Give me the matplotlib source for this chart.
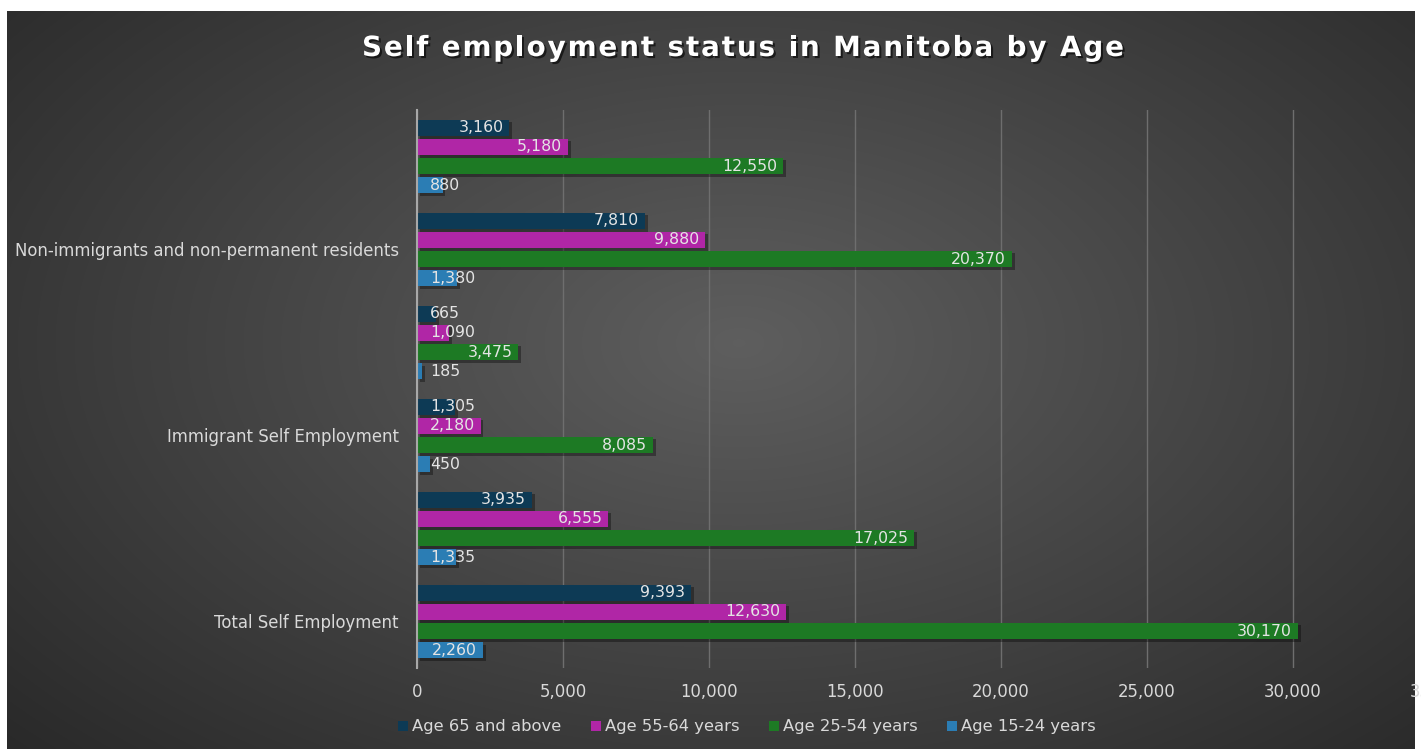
import numpy as np
import matplotlib
matplotlib.use("Agg")
import matplotlib.pyplot as plt
import matplotlib.patheffects as pe
import matplotlib.transforms as mtransforms
from matplotlib.patches import Patch

# Data (categories listed bottom to top, Excel only shows every other label)
tick_labels = ["Total Self Employment", "", "Immigrant Self Employment", "",
               "Non-immigrants and non-permanent residents", ""]
series_names = ["Age 65 and above", "Age 55-64 years", "Age 25-54 years", "Age 15-24 years"]
age_65_plus = [9393, 3935, 1305, 665, 7810, 3160]
age_55_64 = [12630, 6555, 2180, 1090, 9880, 5180]
age_25_54 = [30170, 17025, 8085, 3475, 20370, 12550]
age_15_24 = [2260, 1335, 450, 185, 1380, 880]
colors = ["#0d3a55", "#b026a6", "#1d7a24", "#2b7db4"]
title_str = "Self employment status in Manitoba by Age"

series = [age_65_plus, age_55_64, age_25_54, age_15_24]

fig = plt.figure(figsize=(14.21, 7.49), dpi=100, facecolor="white")

# dark radial background
bg = fig.add_axes([7 / 1421, 0, (1415 - 7) / 1421, (749 - 11) / 749])
yy, xx = np.mgrid[0:1:400j, 0:1:800j]
r = np.sqrt(((xx - 0.52) / 0.75) ** 2 + ((yy - 0.45) / 0.85) ** 2)
shade = np.clip(1 - r, 0, 1)
img = 0.15 + 0.22 * shade
bg.imshow(np.dstack([img, img, img]), aspect="auto", extent=[0, 1, 0, 1],
          interpolation="bilinear")
bg.set_axis_off()

ax = fig.add_axes([417 / 1421, (749 - 668) / 749, 1022 / 1421, 558 / 749])
ax.patch.set_alpha(0)

y = np.arange(len(tick_labels))
step = 0.205
height = 0.18
offsets = [1.5, 0.5, -0.5, -1.5]

shadow = [pe.SimplePatchShadow(offset=(2, -2), shadow_rgbFace="black", alpha=0.35), pe.Normal()]
bar_sets = []
for vals, off, col, name in zip(series, offsets, colors, series_names):
    bars = ax.barh(y + off * step, vals, height=height, color=col, label=name, zorder=3)
    for b in bars:
        b.set_path_effects(shadow)
    bar_sets.append(bars)

ax.set_xlim(0, 35000)
ax.set_ylim(-0.5, len(tick_labels) - 0.5)
ax.set_xticks(np.arange(0, 35001, 5000))
ax.set_xticklabels([f"{v:,}" for v in range(0, 35001, 5000)])
ax.set_yticks(y)
ax.set_yticklabels(tick_labels)
ax.tick_params(axis="both", length=0, colors="#d9d9d9", labelsize=11.9)
ax.tick_params(axis="y", pad=13)
ax.tick_params(axis="x", pad=11)
ax.xaxis.grid(True, color="#6e6e6e", linewidth=1, zorder=0)
ax.set_axisbelow(True)
for s in ["top", "right", "bottom"]:
    ax.spines[s].set_visible(False)
ax.spines["left"].set_color("#a8a8a8")
ax.spines["left"].set_linewidth(1.5)
ax.spines["left"].set_zorder(4)

# value labels: inside end, pushed out to the base when they don't fit
inside = mtransforms.offset_copy(ax.transData, fig=fig, x=-6, y=0, units="dots")
base = mtransforms.offset_copy(ax.transData, fig=fig, x=13, y=0, units="dots")
labels = []
for bars, vals in zip(bar_sets, series):
    for b, v in zip(bars, vals):
        yc = b.get_y() + b.get_height() / 2
        t = ax.text(v, yc, f"{v:,}", transform=inside, ha="right", va="center",
                    color="#e4e4e4", fontsize=11.3, zorder=5)
        labels.append((t, yc))

fig.canvas.draw()
renderer = fig.canvas.get_renderer()
x0_pix = ax.transData.transform((0, 0))[0]
for t, yc in labels:
    bb = t.get_window_extent(renderer)
    if bb.x0 < x0_pix + 12:
        t.set_transform(base)
        t.set_position((0, yc))
        t.set_ha("left")

# title with letter spacing: place each character
title_fx = [pe.SimplePatchShadow(offset=(1.5, -1.5), shadow_rgbFace="black", alpha=0.6), pe.Normal()]
tkw = dict(color="white", fontsize=20, fontweight="bold", va="center", ha="left")
spacing = 1.9
widths = []
for ch in title_str:
    if ch == " ":
        tmp = fig.text(0, 0, "a a", **tkw)
        w_full = tmp.get_window_extent(renderer).width
        tmp.set_text("aa")
        w_full -= tmp.get_window_extent(renderer).width
        tmp.remove()
    else:
        tmp = fig.text(0, 0, ch, **tkw)
        w_full = tmp.get_window_extent(renderer).width
        tmp.remove()
    widths.append(w_full + spacing)
total = sum(widths) - spacing
xpos = 743 - total / 2
ty = 749 - 48
for ch, w in zip(title_str, widths):
    if ch != " ":
        t = fig.text(xpos / 1421, ty / 749, ch, **tkw)
        t.set_path_effects(title_fx)
    xpos += w

handles = [Patch(facecolor=c, label=n) for c, n in zip(colors, series_names)]
leg = fig.legend(handles=handles, loc="center", bbox_to_anchor=(747 / 1421, 1 - 727 / 749),
                 ncol=4, frameon=False, fontsize=11.8, handlelength=0.6, handleheight=0.6,
                 handletextpad=0.25, columnspacing=1.8)
for txt in leg.get_texts():
    txt.set_color("#d9d9d9")

fig.savefig("out.png", dpi=100, facecolor="white")
